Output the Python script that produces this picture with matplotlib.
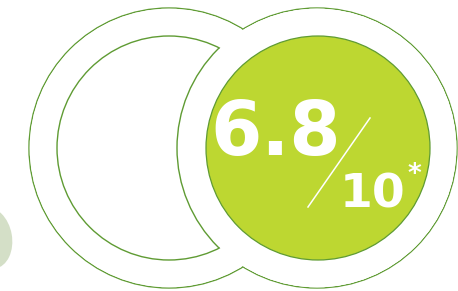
import matplotlib.pyplot as plt
from matplotlib.patches import Circle, Ellipse

# values
score = "6.8"
max_score = "10"
footnote = "*"

W, H = 458, 291
green_line = "#5f9b33"
green_fill = "#bdd731"
blob = "#d4dfc7"

fig = plt.figure(figsize=(W / 100, H / 100), dpi=100)
ax = fig.add_axes([0, 0, 1, 1])
ax.set_xlim(0, W)
ax.set_ylim(H, 0)
ax.set_aspect("equal")
ax.axis("off")

# pale leaf at the left edge
ax.add_patch(Ellipse((-10, 238), 44, 62, angle=-10, color=blob, lw=0))

L = (169, 148)
R = (317, 148)
r_out, r_in = 140, 112

# outer outline of the union
for c in (L, R):
    ax.add_patch(Circle(c, r_out, fc="white", ec=green_line, lw=1.0, zorder=1))
for c in (L, R):
    ax.add_patch(Circle(c, r_out - 0.7, fc="white", ec="none", zorder=2))

# crescent on the left
ax.add_patch(Circle(L, r_in, fc="none", ec=green_line, lw=1.0, zorder=3))
ax.add_patch(Circle(R, r_out - 0.7, fc="white", ec="none", zorder=4))
clip = Circle(L, r_in, transform=ax.transData)
arc = Circle(R, r_out, fc="none", ec=green_line, lw=1.0, zorder=5)
ax.add_patch(arc)
arc.set_clip_path(clip)

# green disc
ax.add_patch(Circle((318, 148), r_in, fc=green_fill, ec=green_line, lw=0.9, zorder=6))

ax.text(276, 155, score, color="white", fontsize=53, fontweight="bold",
        family="DejaVu Sans", ha="center", va="baseline", zorder=7)
ax.plot([308, 370], [207, 118], color="white", lw=1.1, zorder=7)
ax.text(372.5, 207, max_score, color="white", fontsize=34, fontweight="bold",
        family="DejaVu Sans", ha="center", va="baseline", zorder=7)
ax.text(414, 175, footnote, color="white", fontsize=19, fontweight="bold",
        family="DejaVu Sans", ha="center", va="center", zorder=7)

fig.savefig("out.png", dpi=100)
